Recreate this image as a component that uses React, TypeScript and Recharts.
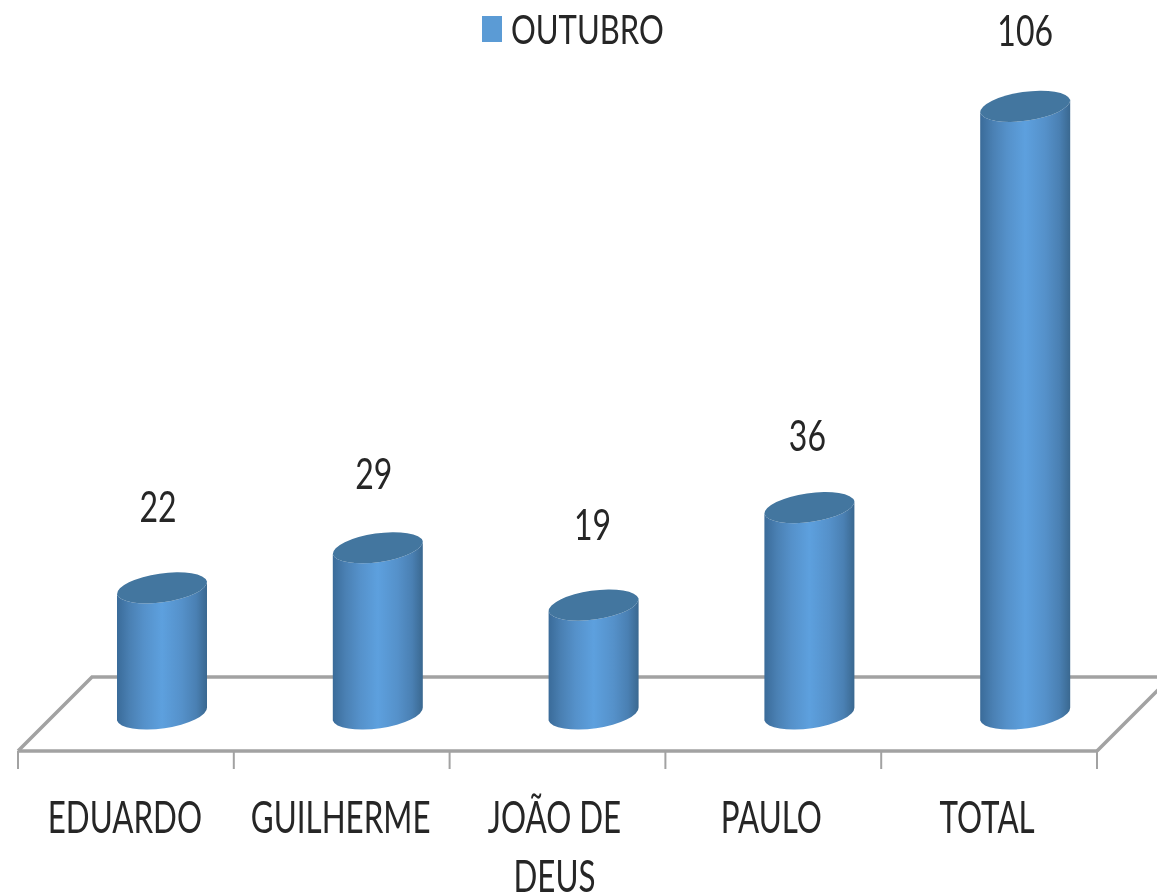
import React from "react";
import { BarChart, Bar, XAxis, YAxis, Legend, LabelList, usePlotArea } from "recharts";

const categories = ["EDUARDO", "GUILHERME", "JOÃO DE DEUS", "PAULO", "TOTAL"];
const outubro = [22, 29, 19, 36, 106];
const chartData = categories.map((name, i) => ({ name, outubro: outubro[i] }));

const FONT = "Lato, sans-serif";
const TEXT = "#262626";
const FLOOR = "#a2a2a2";

// the Excel 3D look: columns sit up and to the right of the axis
const SHIFT_X = 36;
const SHIFT_Y = -37;
const DEPTH = 74;

// the original's value labels are not evenly placed over the columns
const labelNudgeX = [-4, -4, -1, -2, 0];
const labelNudgeY = [0, 7, 1, 9, 6];
const tickNudgeX = [0, 0, -2, -1, -1];

// wrapped category labels
const tickLines = (label: string) => (label === "JOÃO DE DEUS" ? ["JOÃO DE", "DEUS"] : [label]);

const Floor = () => {
  const plot = usePlotArea();
  if (!plot) return null;
  const left = plot.x;
  const right = plot.x + plot.width;
  const front = plot.y + plot.height;
  const back = front - DEPTH;
  return (
    <path
      d={`M${left},${front} L${left + DEPTH},${back} L${right + DEPTH},${back} L${right},${front}`}
      fill="none"
      stroke={FLOOR}
      strokeWidth={3.5}
    />
  );
};

const Cylinder = (props: any) => {
  const { x, y, width, height } = props;
  const left = x + SHIFT_X;
  const right = left + width;
  const top = y + SHIFT_Y;
  const bottom = top + height;
  const rx = width / 2 + 0.5;
  const ry = 15;
  const lean = 6.5;
  const arc = `A${rx},${ry} -8 0 0`;
  return (
    <g>
      <path
        d={`M${left},${top + lean} ${arc} ${right},${top - lean} L${right},${bottom - lean} ${arc.replace("0 0", "0 1")} ${left},${bottom + lean} Z`}
        fill="url(#cylinderSide)"
      />
      <path
        d={`M${left},${top + lean} ${arc} ${right},${top - lean} ${arc} ${left},${top + lean} Z`}
        fill="#43769f"
      />
    </g>
  );
};

const ValueLabel = (props: any) => {
  const { x, y, width, value, index } = props;
  const cx = x + width / 2 + SHIFT_X + labelNudgeX[index];
  const base = y + SHIFT_Y - 66 + labelNudgeY[index];
  return (
    <text
      transform={`translate(${cx},${base}) scale(1,1.35)`}
      textAnchor="middle"
      fontFamily={FONT}
      fontSize={32}
      fill={TEXT}
    >
      {value}
    </text>
  );
};

const CategoryTick = (props: any) => {
  const { x, y, payload, index, visibleTicksCount } = props;
  const band = 1079 / categories.length;
  const isLast = index === visibleTicksCount - 1;
  return (
    <g>
      <line x1={x - band / 2} x2={x - band / 2} y1={y - 6} y2={y + 12} stroke={FLOOR} strokeWidth={2} />
      {isLast && <line x1={x + band / 2} x2={x + band / 2} y1={y - 6} y2={y + 12} stroke={FLOOR} strokeWidth={2} />}
      {tickLines(payload.value).map((line, i) => (
        <text
          key={line}
          transform={`translate(${x - 1 + tickNudgeX[index]},${y + 76 + i * 59}) scale(0.98,1.4)`}
          textAnchor="middle"
          fontFamily={FONT}
          fontSize={32}
          fill={TEXT}
        >
          {line}
        </text>
      ))}
    </g>
  );
};

const LegendContent = ({ payload }: any) => (
  <div style={{ display: "flex", justifyContent: "center", alignItems: "flex-start", fontFamily: FONT }}>
    {(payload || []).map((entry: any) => (
      <div key={entry.value} style={{ display: "flex", alignItems: "flex-start" }}>
        <div style={{ width: 20, height: 26, background: "#5b9bd5", marginTop: 16, marginRight: 9 }} />
        <svg width={156} height={60}>
          <text transform="translate(0,44) scale(1,1.3)" fontFamily={FONT} fontSize={31} fill={TEXT}>
            {entry.value}
          </text>
        </svg>
      </div>
    ))}
  </div>
);

export default function App() {
  return (
    <div
      style={{
        position: "absolute",
        left: 0,
        top: 0,
        width: 1157,
        height: 896,
        overflow: "hidden",
        background: "#fff",
        filter: "blur(0.6px)",
      }}
    >
      <BarChart width={1157} height={896} data={chartData} margin={{ top: 0, right: 60, bottom: 0, left: 18 }}>
        <defs>
          <linearGradient id="cylinderSide" x1="0" y1="0" x2="1" y2="0">
            <stop offset="0" stopColor="#3a6b99" />
            <stop offset="0.14" stopColor="#4a80b3" />
            <stop offset="0.3" stopColor="#5591ca" />
            <stop offset="0.5" stopColor="#5da0de" />
            <stop offset="0.72" stopColor="#5591ca" />
            <stop offset="0.88" stopColor="#4a80b3" />
            <stop offset="1" stopColor="#3a6890" />
          </linearGradient>
        </defs>
        <Floor />
        <XAxis
          dataKey="name"
          height={145}
          interval={0}
          axisLine={{ stroke: FLOOR, strokeWidth: 3.5 }}
          tickLine={false}
          tick={<CategoryTick />}
          tickMargin={0}
        />
        <YAxis hide domain={[0, 131]} />
        <Legend
          verticalAlign="middle"
          content={<LegendContent />}
          wrapperStyle={{ top: 0, left: 444, width: 260 }}
        />
        <Bar dataKey="outubro" name="OUTUBRO" fill="#5b9bd5" barSize={90} shape={<Cylinder />} isAnimationActive={false}>
          <LabelList dataKey="outubro" content={<ValueLabel />} />
        </Bar>
      </BarChart>
    </div>
  );
}
